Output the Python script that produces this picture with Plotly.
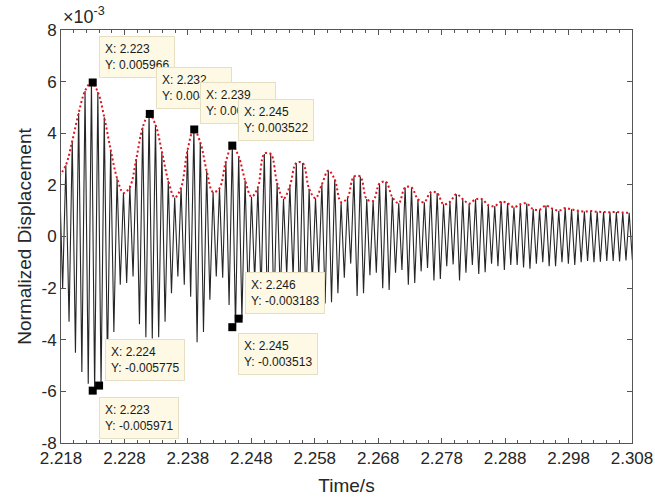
import numpy as np
import plotly.graph_objects as go

# ---- time base: one positive and one negative extremum per cycle ----
T0 = 2.2228          # time of the cycle-0 maximum (s)
PERIOD = 0.001009    # oscillation period (s)
cycle = np.arange(-5, 85)

# Positive peaks per cycle (x1e-3)
upper_peaks = [
    2.35, 2.76, 3.70, 4.78, 5.64, 5.966, 5.60, 4.62, 3.36, 2.26,
    1.69, 1.92, 3.00, 4.22, 4.748, 4.33, 3.29, 2.16, 1.51, 1.89,
    3.34, 4.146, 3.65, 2.54, 1.72, 1.87, 2.91, 3.522, 3.10, 2.18,
    1.54, 1.90, 3.20, 3.20, 2.08, 1.46, 1.96, 2.85, 2.85, 1.85,
    1.48, 2.02, 2.56, 2.21, 1.33, 1.50, 2.32, 2.32, 1.45, 1.38,
    2.05, 2.12, 1.52, 1.29, 1.90, 1.90, 1.44, 1.33, 1.72, 1.68,
    1.25, 1.34, 1.64, 1.45, 1.27, 1.44, 1.45, 1.21, 1.18, 1.35,
    1.29, 1.13, 1.25, 1.28, 1.06, 1.04, 1.20, 1.08, 1.00, 1.10,
    1.05, 1.00, 0.97, 0.99, 0.96, 0.95, 0.94, 0.95, 0.93, 0.92,
]

# Negative peaks per cycle (x1e-3)
lower_peaks = [
    -2.0, -3.3, -4.5, -5.25, -5.7, -5.971, -5.775, -4.9, -3.7, -1.87,
    -1.8, -1.55, -3.4, -3.9, -3.95, -3.9, -3.3, -2.2, -1.55, -1.87,
    -2.33, -4.1, -3.7, -2.45, -1.55, -1.6, -2.65, -3.513, -3.183, -2.4,
    -1.7, -2.2, -3.0, -3.0, -2.3, -1.5, -1.6, -2.6, -2.7, -1.8,
    -1.5, -2.6, -2.55, -2.2, -1.6, -1.05, -2.3, -2.2, -1.5, -1.4,
    -2.0, -2.07, -1.4, -1.3, -1.87, -1.8, -1.35, -1.22, -1.7, -1.65,
    -1.15, -1.08, -1.7, -1.4, -1.1, -1.45, -1.38, -1.05, -1.15, -1.3,
    -1.1, -1.1, -1.2, -1.25, -1.05, -1.0, -1.15, -1.15, -1.0, -1.05,
    -1.1, -1.0, -0.95, -1.0, -0.98, -0.95, -0.95, -0.97, -0.93, -0.92,
]

# Data tips
tip_x = [2.223, 2.232, 2.239, 2.245, 2.224, 2.223, 2.246, 2.245]
tip_y = [0.005966, 0.004748, 0.004146, 0.003522,
         -0.005775, -0.005971, -0.003183, -0.003513]
tip_side = ["above", "above", "above", "above",
            "above", "below", "above", "below"]

x_ticks = [2.218, 2.228, 2.238, 2.248, 2.258, 2.268, 2.278, 2.288, 2.298, 2.308]
y_ticks = [-8, -6, -4, -2, 0, 2, 4, 6, 8]
SCALE = 1e-3

t_max = T0 + cycle * PERIOD
t_min = t_max + PERIOD / 2
up = np.array(upper_peaks) * SCALE
lo = np.array(lower_peaks) * SCALE

t_sig = np.empty(2 * len(cycle))
y_sig = np.empty(2 * len(cycle))
t_sig[0::2], t_sig[1::2] = t_max, t_min
y_sig[0::2], y_sig[1::2] = up, lo

FONT = "Liberation Sans, Arial, sans-serif"
INK = "#262626"

fig = go.Figure()
fig.add_trace(go.Scatter(x=t_sig, y=y_sig, mode="lines",
                         line=dict(color="#262626", width=1.1),
                         hoverinfo="skip", showlegend=False))
fig.add_trace(go.Scatter(x=t_max, y=up, mode="lines",
                         line=dict(color="#e0141e", width=2, dash="2px,2.5px",
                                   shape="spline"),
                         hoverinfo="skip", showlegend=False))
fig.add_trace(go.Scatter(x=tip_x, y=tip_y, mode="markers",
                         marker=dict(symbol="square", size=8, color="black"),
                         hoverinfo="skip", showlegend=False))

for x, y, side in zip(tip_x, tip_y, tip_side):
    fig.add_annotation(
        x=x, y=y, xref="x", yref="y",
        text=f"X: {x:g}<br>Y: {y:.4g}",
        showarrow=False, align="left",
        xanchor="left", yanchor="bottom" if side == "above" else "top",
        xshift=6, yshift=5 if side == "above" else -6,
        font=dict(family=FONT, size=12, color="#1a1a1a"),
        bgcolor="#fdf9e4", bordercolor="#e6dfc3", borderwidth=1, borderpad=5,
    )

fig.add_annotation(
    x=0, y=1, xref="paper", yref="paper", xanchor="left", yanchor="bottom",
    yshift=1, showarrow=False,
    text="×10<sup>-3</sup>", font=dict(family=FONT, size=18, color=INK),
)

axis_common = dict(
    showline=True, linecolor="#555555", linewidth=1, mirror="allticks",
    ticks="inside", ticklen=5, tickcolor="#555555", tickwidth=1,
    showgrid=False, zeroline=False, automargin=False,
    tickfont=dict(family=FONT, size=17, color=INK),
)

fig.update_xaxes(
    range=[x_ticks[0], x_ticks[-1]], tickvals=x_ticks,
    ticktext=[f"{v:.3f}" for v in x_ticks],
    minor=dict(dtick=0.002, tick0=2.218, ticks="inside", ticklen=3,
               tickcolor="#555555"),
    title=dict(text="Time/s", font=dict(family=FONT, size=19, color=INK),
               standoff=11),
    **axis_common,
)
fig.update_yaxes(
    range=[y_ticks[0] * SCALE, y_ticks[-1] * SCALE],
    tickvals=[v * SCALE for v in y_ticks], ticktext=[str(v) for v in y_ticks],
    title=dict(text="Normalized Displacement",
               font=dict(family=FONT, size=19, color=INK), standoff=4),
    **axis_common,
)

fig.update_layout(
    width=655, height=502,
    margin=dict(l=61, r=23, t=30, b=59),
    paper_bgcolor="white", plot_bgcolor="white",
)

fig.write_html("out.html")
